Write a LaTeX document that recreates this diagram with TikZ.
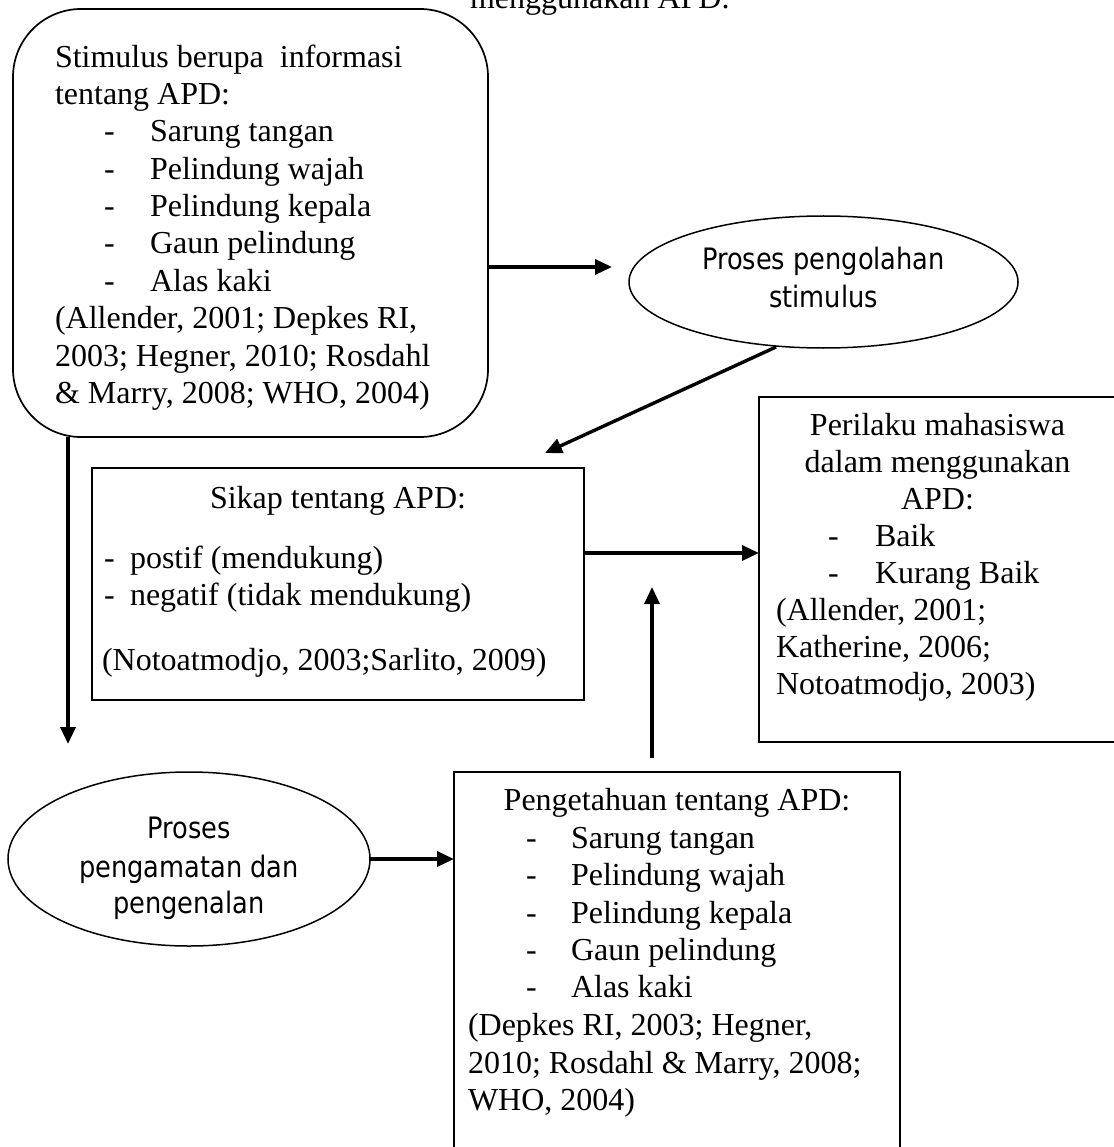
\documentclass[tikz,border=0pt]{standalone}
\usepackage{fontspec}
\setmainfont{Liberation Serif}
\newfontfamily\procfont[FakeStretch=0.87]{DejaVu Sans}
\usetikzlibrary{arrows.meta,shapes.geometric}
\newcommand\txtline[4]{\node[txt,anchor=base west] (#1) at (#2,#3) {#4};}
\newcommand\txtmid[4]{\node[txt,anchor=base] (#1) at (#2,#3) {#4};}
\newcommand\proline[4]{\node[ptxt,anchor=base] (#1) at (#2,#3) {#4};}
\begin{document}
\begin{tikzpicture}[x=1pt,y=-1pt,
  txt/.style={inner sep=0pt, outer sep=0pt, font=\fontsize{32}{37}\selectfont},
  ptxt/.style={inner sep=0pt, outer sep=0pt, font=\procfont\fontsize{29.5}{37}\selectfont},
  frame/.style={draw, line width=1.7pt, inner sep=0pt, outer sep=0pt},
  proc/.style={draw, ellipse, line width=1.5pt, inner sep=0pt, outer sep=0pt},
  conn/.style={line width=3.4pt, -{Triangle[length=17pt,width=15pt]}}
]
\useasboundingbox (0,0) rectangle (1113,1147);
\fill[white] (0,0) rectangle (1113,1147);

% title fragment
\txtline{title}{470}{9}{menggunakan APD.}

% boxes
\node[frame, rounded corners=68pt, minimum width=475pt, minimum height=428pt] (stim) at (250.5,223) {};
\node[proc, minimum width=389pt, minimum height=132pt] (proc1) at (823.5,282) {};
\node[frame, minimum width=492pt, minimum height=232pt] (sikap) at (338,584) {};
\node[frame, minimum width=356pt, minimum height=345pt] (peri) at (937,569.5) {};
\node[proc, minimum width=362pt, minimum height=174pt] (proc2) at (189,859) {};
\node[frame, minimum width=446pt, minimum height=378pt] (peng) at (677,961) {};

% stimulus text
\txtline{s1}{55}{68}{Stimulus berupa\ \ informasi}
\txtline{s2}{55}{105}{tentang APD:}
\txtline{sd1}{104}{142}{-}\txtline{si1}{150}{142}{Sarung tangan}
\txtline{sd2}{104}{180}{-}\txtline{si2}{150}{180}{Pelindung wajah}
\txtline{sd3}{104}{217}{-}\txtline{si3}{150}{217}{Pelindung kepala}
\txtline{sd4}{104}{254}{-}\txtline{si4}{150}{254}{Gaun pelindung}
\txtline{sd5}{104}{291}{-}\txtline{si5}{150}{291}{Alas kaki}
\txtline{s3}{55}{328}{(Allender, 2001; Depkes RI,}
\txtline{s4}{55}{366}{2003; Hegner, 2010; Rosdahl}
\txtline{s5}{55}{403}{\& Marry, 2008; WHO, 2004)}

% process 1 text
\proline{p1a}{823.5}{270}{Proses pengolahan}
\proline{p1b}{823.5}{307}{stimulus}

% sikap text
\txtmid{k1}{338}{508}{Sikap tentang APD:}
\txtline{kd1}{104}{568}{-}\txtline{ki1}{130}{568}{postif (mendukung)}
\txtline{kd2}{104}{605}{-}\txtline{ki2}{130}{605}{negatif (tidak mendukung)}
\txtline{k2}{102}{670}{(Notoatmodjo, 2003;Sarlito, 2009)}

% perilaku text
\txtmid{r1}{937.5}{435}{Perilaku mahasiswa}
\txtmid{r2}{937.5}{472}{dalam menggunakan}
\txtmid{r3}{937.5}{509}{APD:}
\txtline{rd1}{828}{546}{-}\txtline{ri1}{875}{546}{Baik}
\txtline{rd2}{828}{583}{-}\txtline{ri2}{875}{583}{Kurang Baik}
\txtline{r4}{776}{620}{(Allender, 2001;}
\txtline{r5}{776}{657}{Katherine, 2006;}
\txtline{r6}{776}{694}{Notoatmodjo, 2003)}

% process 2 text
\proline{p2a}{189}{838}{Proses}
\proline{p2b}{189}{877}{pengamatan dan}
\proline{p2c}{189}{913}{pengenalan}

% pengetahuan text
\txtmid{g1}{677}{810}{Pengetahuan tentang APD:}
\txtline{gd1}{526}{848}{-}\txtline{gi1}{571}{848}{Sarung tangan}
\txtline{gd2}{526}{885}{-}\txtline{gi2}{571}{885}{Pelindung wajah}
\txtline{gd3}{526}{923}{-}\txtline{gi3}{571}{923}{Pelindung kepala}
\txtline{gd4}{526}{960}{-}\txtline{gi4}{571}{960}{Gaun pelindung}
\txtline{gd5}{526}{997}{-}\txtline{gi5}{571}{997}{Alas kaki}
\txtline{g2}{468}{1035}{(Depkes RI, 2003; Hegner,}
\txtline{g3}{468}{1073}{2010; Rosdahl \& Marry, 2008;}
\txtline{g4}{468}{1110}{WHO, 2004)}

% free-end coordinates
\coordinate (a1y) at (0,267);
\coordinate (diagS) at (776,347);
\coordinate (diagT) at (545,453);
\coordinate (kry) at (0,553);
\coordinate (upx) at (652,0);
\coordinate (upT) at (652,587);
\coordinate (dnx) at (68,0);
\coordinate (dnT) at (68,744);

% connectors
\draw[conn, shorten >=17pt] (stim.east |- a1y) -- (proc1.west |- a1y);
\draw[conn] (diagS) -- (diagT);
\draw[conn] (sikap.east |- kry) -- (peri.west |- kry);
\draw[conn, shorten <=14pt] (peng.north -| upx) -- (upT);
\draw[conn] (stim.south -| dnx) -- (dnT);
\draw[conn] (proc2.east) -- (peng.west |- proc2.east);
\end{tikzpicture}
\end{document}
